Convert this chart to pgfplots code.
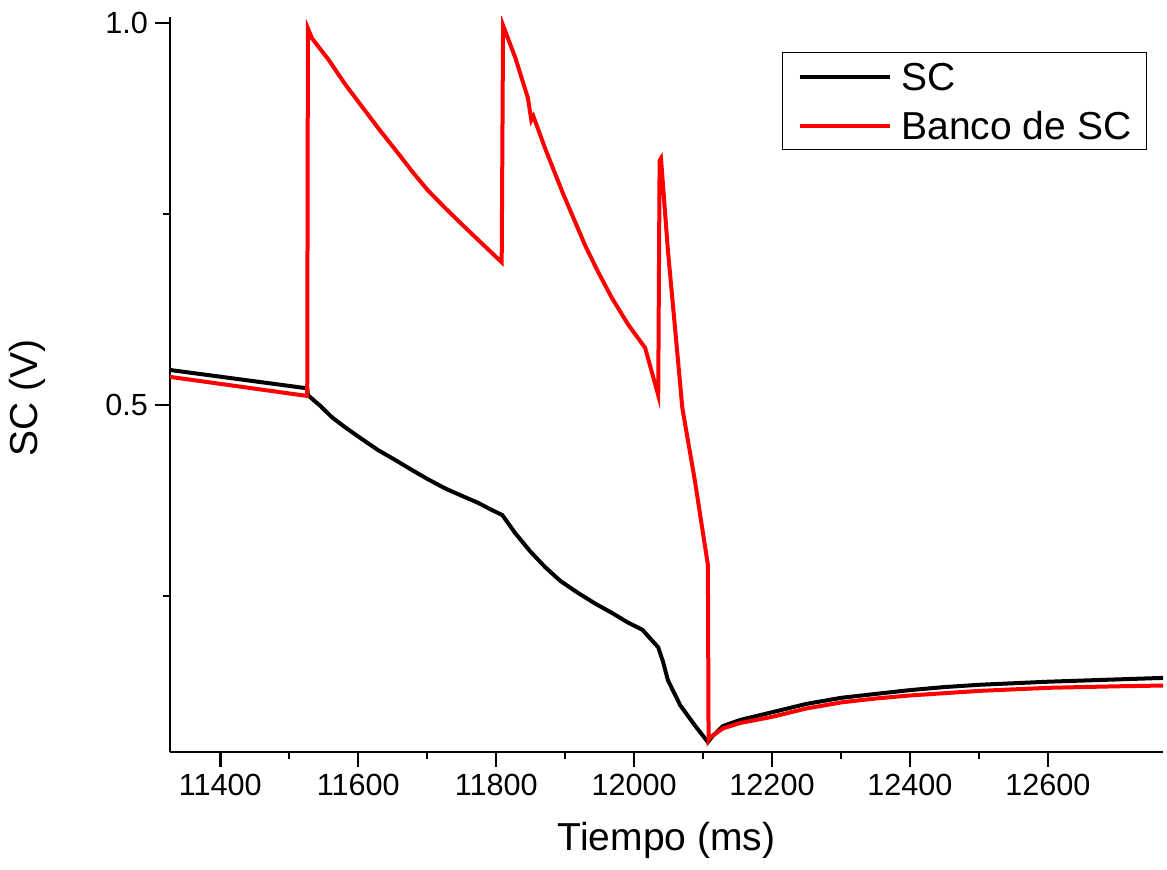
\documentclass[border=0pt]{standalone}
\usepackage{fontspec}
\setmainfont{Liberation Sans}
\usepackage{pgfplots}
\pgfplotsset{compat=1.18}
\begin{document}
\begin{tikzpicture}
\begin{axis}[
  scale only axis, width=496.5pt, height=367.5pt,
  xmin=11327, xmax=12767, ymin=0.046, ymax=1.008,
  axis lines*=left,
  axis line style={line width=1.4pt},
  tick align=outside,
  xtick={11400,11600,...,12600}, minor x tick num=1,
  ytick={0,0.5,1.0}, minor y tick num=1,
  major tick length=7.5pt, minor tick length=3.5pt,
  every tick/.style={black, line width=1.2pt},
  scaled x ticks=false,
  /pgf/number format/assume math mode=true,
  xticklabel style={/pgf/number format/1000 sep={}, font=\fontsize{15.3}{18}\selectfont},
  yticklabel style={/pgf/number format/fixed, /pgf/number format/fixed zerofill,
    /pgf/number format/precision=1, font=\fontsize{15.3}{18}\selectfont},
  xlabel={Tiempo (ms)},
  xlabel style={font=\fontsize{19.5}{23}\selectfont, at={(axis description cs:0.5,0)},
    anchor=north, inner sep=0pt, yshift=-35pt},
  ylabel={SC (V)},
  ylabel style={font=\fontsize{19.5}{23}\selectfont, at={(axis description cs:-0.144,0.482)},
    anchor=center, inner sep=0pt},
  legend cell align=left,
  legend image code/.code={\draw[#1] (0pt,0pt) -- (45pt,0pt);},
  legend style={at={(axis description cs:1,1)}, anchor=north east,
    xshift=-8pt, yshift=-17.5pt, draw=black, line width=0.6pt,
    font=\fontsize{19.5}{23}\selectfont, inner xsep=7.5pt, inner ysep=5pt,
    row sep=10.5pt, column sep=5pt,
    nodes={inner sep=0pt, text height=14pt, text depth=0pt}},
]
% SC
\addplot[black, line width=2pt] coordinates {
(11327,0.546) (11526,0.522) (11527,0.513) (11545,0.499) (11562,0.484)
(11581,0.471) (11603,0.457) (11629,0.441) (11654,0.428) (11678,0.415)
(11701,0.403) (11726,0.391) (11751,0.381) (11774,0.372) (11791,0.364)
(11809,0.356) (11828,0.332) (11849,0.309) (11871,0.288) (11893,0.270)
(11919,0.254) (11944,0.240) (11968,0.228) (11990,0.216) (12012,0.206)
(12035,0.183) (12042,0.164) (12049,0.140) (12067,0.107) (12088,0.081)
(12107,0.059) (12113,0.066) (12129,0.080) (12154,0.088) (12200,0.098)
(12250,0.109) (12301,0.117) (12350,0.122) (12400,0.127) (12450,0.131)
(12501,0.134) (12600,0.138) (12700,0.141) (12767,0.143)
};
\addlegendentry{SC}
% Banco de SC
\addplot[red, line width=2pt] coordinates {
(11327,0.537) (11526,0.512) (11527,0.993) (11533,0.980) (11557,0.952)
(11581,0.920) (11606,0.890) (11632,0.859) (11654,0.834) (11678,0.806)
(11701,0.781) (11726,0.758) (11751,0.736) (11780,0.711) (11808,0.687)
(11810,0.997) (11828,0.954) (11846,0.902) (11851,0.873) (11854,0.878)
(11871,0.836) (11896,0.779) (11929,0.709) (11948,0.674) (11968,0.640)
(11991,0.606) (12016,0.575) (12035,0.513) (12037,0.820) (12039,0.823)
(12049,0.703) (12070,0.496) (12088,0.402) (12107,0.291) (12108,0.062)
(12110,0.065) (12129,0.077) (12154,0.084) (12200,0.092) (12250,0.103)
(12301,0.111) (12350,0.116) (12400,0.120) (12450,0.123) (12501,0.126)
(12600,0.130) (12700,0.132) (12767,0.133)
};
\addlegendentry{Banco de SC}
\end{axis}
\pgfresetboundingbox
\path (current axis.south west) ++(-85pt,-58.5pt) coordinate (bl);
\path (current axis.north east) ++(2pt,8.5pt) coordinate (tr);
\useasboundingbox (bl) rectangle (tr);
\end{tikzpicture}
\end{document}
